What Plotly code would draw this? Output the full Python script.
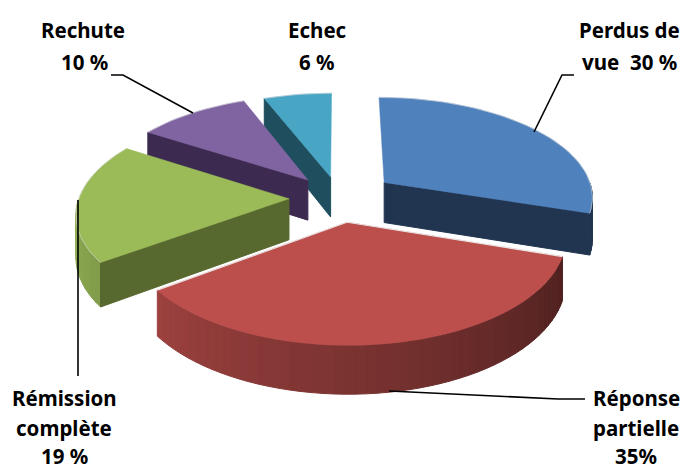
import math
import plotly.graph_objects as go

categories = ["Perdus de vue", "Réponse partielle", "Rémission complète", "Rechute", "Echec"]
values = [30, 35, 19, 10, 6]
top_colors = ["#4F81BD", "#BC4F4C", "#9BBB59", "#8064A2", "#48A6C4"]
side_colors = ["#213550", "#7A2E2C", "#57692F", "#3D2A50", "#1F4F5E"]
explode = [57, 50, 50, 50, 46]
draw_order = [4, 3, 0, 2, 1]

label_lines = [
    ("Rechute", 83, 30), ("10 %", 84, 62),
    ("Echec", 317, 30), ("6 %", 317, 62),
    ("Perdus de", 629, 30), ("vue  30 %", 629, 62),
    ("Rémission", 64, 398), ("complète", 64, 428), ("19 %", 64, 456),
    ("Réponse", 636, 398), ("partielle", 636, 428), ("35%", 636, 456),
]
leaders = [
    [(534, 132), (562, 75), (574, 75)],
    [(111, 75), (123, 75), (193, 113)],
    [(78, 200), (78, 376)],
    [(389, 391), (558, 399), (585, 399)],
]

CX, CY, R, SQ, C, H = 339, 198, 210, 0.476, 0.131, 41


def project(u, v, drop=0.0):
    f = 1 / (1 - C * v / R)
    return CX + u * f, CY + SQ * v * f + drop * f


def hex_rgb(h):
    return [int(h[i:i + 2], 16) for i in (1, 3, 5)]


def shade(base, t):
    a = max(0.0, min(1.0, (t - 108) / 162))
    k = 0.42 + 0.53 * a
    r, g, b = hex_rgb(base)
    return f"rgb({int(r * k)},{int(g * k)},{int(b * k)})"


def poly(fig, pts, fill, width=1.0):
    fig.add_trace(go.Scatter(
        x=[p[0] for p in pts] + [pts[0][0]],
        y=[p[1] for p in pts] + [pts[0][1]],
        mode="lines", fill="toself", fillcolor=fill,
        line=dict(color=fill, width=width),
        hoverinfo="skip", showlegend=False))


def stroke(fig, pts, color, width=1.0):
    fig.add_trace(go.Scatter(
        x=[p[0] for p in pts], y=[p[1] for p in pts], mode="lines",
        line=dict(color=color, width=width), hoverinfo="skip", showlegend=False))


starts = []
acc = 0
for val in values:
    starts.append(acc)
    acc += val * 3.6

fig = go.Figure()
for i in draw_order:
    t0 = starts[i]
    t1 = t0 + values[i] * 3.6
    m = math.radians((t0 + t1) / 2)
    au, av = explode[i] * math.sin(m), -explode[i] * math.cos(m)

    def rim(t):
        a = math.radians(t)
        return au + R * math.sin(a), av - R * math.cos(a)

    n = max(4, int((t1 - t0) / 2.5))
    ts = [t0 + (t1 - t0) * k / n for k in range(n + 1)]
    # outer wall: only the part that faces the viewer
    for a, b in zip(ts[:-1], ts[1:]):
        if math.cos(math.radians((a + b) / 2)) < 0:
            p, q = rim(a), rim(b)
            poly(fig, [project(*p), project(*q), project(*q, H), project(*p, H)],
                 shade(top_colors[i], (a + b) / 2))
    # radial walls that face the viewer
    for t, normal in ((t0, t0 - 90), (t1, t1 + 90)):
        if -math.cos(math.radians(normal)) > 0.01:
            ru, rv = rim(t)
            poly(fig, [project(au, av), project(ru, rv), project(ru, rv, H), project(au, av, H)], side_colors[i])
    # top face
    rim_pts = [project(*rim(t)) for t in ts]
    poly(fig, [project(au, av)] + rim_pts, top_colors[i], width=0.5)
    if i == 1:
        stroke(fig, [rim_pts[-1], project(au, av), rim_pts[0]], "rgba(235,235,235,0.9)", 1.2)
    else:
        stroke(fig, rim_pts, "rgba(215,215,215,0.6)", 1.0)

for seg in leaders:
    stroke(fig, seg, "black", 1.6)

for text, x, y in label_lines:
    fig.add_annotation(x=x, y=y, text=f"<b>{text}</b>", showarrow=False, xanchor="center", yanchor="middle",
                       font=dict(family="Noto Sans", size=20.5, color="black"))

fig.update_xaxes(range=[0, 683], visible=False, fixedrange=True)
fig.update_yaxes(range=[471, 0], visible=False, fixedrange=True)
fig.update_layout(width=683, height=471, margin=dict(l=0, r=0, t=0, b=0),
                  paper_bgcolor="white", plot_bgcolor="white", showlegend=False)
fig.write_html("out.html", config={"displayModeBar": False},
               post_script="document.body.style.margin='0';document.body.style.overflow='hidden';")
